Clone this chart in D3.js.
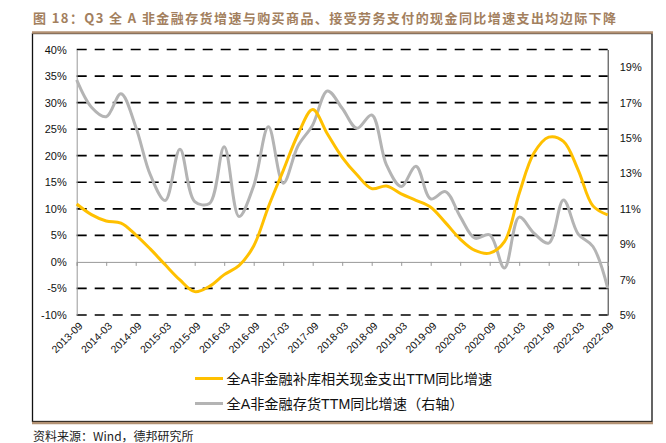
<!DOCTYPE html>
<html><head><meta charset="utf-8">
<script src="https://cdn.jsdelivr.net/npm/d3@7"></script>
<style>
html,body{margin:0;padding:0;background:#fff;}
text{font-family:"Liberation Sans","Noto Sans CJK SC",sans-serif;}
</style></head>
<body>
<svg id="chart" width="666" height="443"></svg>
<script>
const quarters = ["2013-09","2013-12","2014-03","2014-06","2014-09","2014-12","2015-03","2015-06","2015-09","2015-12",
  "2016-03","2016-06","2016-09","2016-12","2017-03","2017-06","2017-09","2017-12","2018-03","2018-06",
  "2018-09","2018-12","2019-03","2019-06","2019-09","2019-12","2020-03","2020-06","2020-09","2020-12",
  "2021-03","2021-06","2021-09","2021-12","2022-03","2022-06","2022-09"];
const xTickLabels = ["2013-09","2014-03","2014-09","2015-03","2015-09","2016-03","2016-09","2017-03","2017-09","2018-03",
  "2018-09","2019-03","2019-09","2020-03","2020-09","2021-03","2021-09","2022-03","2022-09"];
const cashSpend = [10.9, 8.9, 7.7, 7.3, 5.1, 2.4, -0.55, -3.4, -5.6, -4.6, -2.4, -0.7, 3.0, 10.4, 17.2, 24.0, 28.7, 24.1, 19.7, 16.4,
  13.8, 14.3, 12.8, 11.6, 10.3, 7.4, 4.3, 2.15, 1.65, 3.8, 12.9, 20.5, 23.5, 22.7, 17.3, 10.55, 8.85];
const inventory = [18.28, 16.74, 16.2, 17.5, 15.64, 12.9, 11.47, 14.37, 11.41, 11.3, 14.5, 10.56, 12.3, 15.64, 12.45, 14.55, 15.74, 17.66, 16.68, 15.55,
  16.3, 13.48, 12.26, 13.4, 11.56, 11.97, 10.56, 9.34, 9.53, 7.65, 10.53, 9.62, 9.06, 11.5, 9.57, 8.87, 6.52];
const leftTicks = [-10, -5, 0, 5, 10, 15, 20, 25, 30, 35, 40];
const rightTicks = [5, 7, 9, 11, 13, 15, 17, 19];
const seriesNames = ["全A非金融补库相关现金支出TTM同比增速", "全A非金融存货TTM同比增速（右轴）"];
const titleText = "图 18：Q3 全 A 非金融存货增速与购买商品、接受劳务支付的现金同比增速支出均边际下降";
const sourceText = "资料来源：Wind，德邦研究所";

const svg = d3.select("#chart");
const L = 76.7, R = 607.7, T = 49.5, B = 315;
const x = d3.scalePoint().domain(quarters).range([L, R]);
const yL = d3.scaleLinear().domain([-10, 40]).range([B, T]);
const yR = d3.scaleLinear().domain([5, 20]).range([B, T]);
const brown = "#b39274";

// title
svg.append("text").attr("x", 33).attr("y", 23).attr("fill", "#a3805e")
  .attr("font-size", 13).attr("font-weight", "bold")
  .attr("textLength", 583).attr("lengthAdjust", "spacing")
  .style("font-family", "'Noto Sans CJK SC',sans-serif").text(titleText);

// frame
svg.append("rect").attr("x", 32.5).attr("y", 33.5).attr("width", 619.5).attr("height", 388)
  .attr("fill", "none").attr("stroke", "#111").attr("stroke-width", 1.3);
svg.append("line").attr("x1", 32).attr("x2", 653).attr("y1", 32.5).attr("y2", 32.5)
  .attr("stroke", brown).attr("stroke-width", 2.5);
svg.append("line").attr("x1", 32).attr("x2", 653).attr("y1", 423).attr("y2", 423)
  .attr("stroke", brown).attr("stroke-width", 2.5);

// gridlines
svg.append("g").selectAll("line").data(leftTicks.filter(d => d !== 0)).join("line")
  .attr("x1", L).attr("x2", R).attr("y1", d => yL(d)).attr("y2", d => yL(d))
  .attr("stroke", "#000").attr("stroke-width", 1.7).attr("stroke-dasharray", "10,8");

// left axis
const gL = svg.append("g").attr("transform", `translate(${L},0)`)
  .call(d3.axisLeft(yL).tickValues(leftTicks).tickSize(0).tickPadding(10).tickFormat(d => d + "%"));
gL.select(".domain").attr("stroke", "#999");
gL.selectAll("text").attr("font-size", 11).attr("fill", "#111")
  .style("font-family", "'Liberation Sans',Arial,sans-serif");

// right axis
const gR = svg.append("g").attr("transform", `translate(${R},0)`)
  .call(d3.axisRight(yR).tickValues(rightTicks).tickSize(0).tickPadding(12).tickFormat(d => d + "%"));
gR.select(".domain").attr("stroke", "#333");
gR.selectAll("text").attr("font-size", 11).attr("fill", "#111")
  .style("font-family", "'Liberation Sans',Arial,sans-serif");

// x axis at 0%
const gX = svg.append("g").attr("transform", `translate(0,${yL(0)})`)
  .call(d3.axisBottom(x).tickValues(xTickLabels).tickSize(4).tickFormat(""));
gX.select(".domain").attr("stroke", "#999");
gX.selectAll(".tick line").attr("stroke", "#999");

// x labels at bottom
svg.append("g").selectAll("text").data(xTickLabels).join("text")
  .attr("transform", d => `translate(${x(d) + 4},${B + 9}) rotate(-45)`)
  .attr("text-anchor", "end").attr("dy", "0.35em")
  .attr("font-size", 10.5).attr("fill", "#111")
  .style("font-family", "'Liberation Sans',Arial,sans-serif").text(d => d);

// lines
const lineL = d3.line().x((d, i) => x(quarters[i])).y(d => yL(d)).curve(d3.curveCatmullRom.alpha(0.5));
const lineR = d3.line().x((d, i) => x(quarters[i])).y(d => yR(d)).curve(d3.curveCatmullRom.alpha(0.5));
svg.append("path").datum(inventory).attr("d", lineR).attr("fill", "none")
  .attr("stroke", "#b4b4b4").attr("stroke-width", 3);
svg.append("path").datum(cashSpend).attr("d", lineL).attr("fill", "none")
  .attr("stroke", "#ffc000").attr("stroke-width", 3);

// legend
const colors = ["#ffc000", "#b4b4b4"];
const lg = svg.append("g");
seriesNames.forEach((name, i) => {
  const yy = 378.5 + i * 25;
  lg.append("line").attr("x1", 195).attr("x2", 223).attr("y1", yy).attr("y2", yy)
    .attr("stroke", colors[i]).attr("stroke-width", 3);
  lg.append("text").attr("x", 226.5).attr("y", yy).attr("dy", "0.36em")
    .attr("font-size", 14.2).attr("fill", "#111").text(name);
});

// source
svg.append("text").attr("x", 33).attr("y", 441).attr("font-size", 12).attr("fill", "#222")
  .style("font-family", "'Noto Sans CJK SC',sans-serif").text(sourceText);
</script>
</body></html>
